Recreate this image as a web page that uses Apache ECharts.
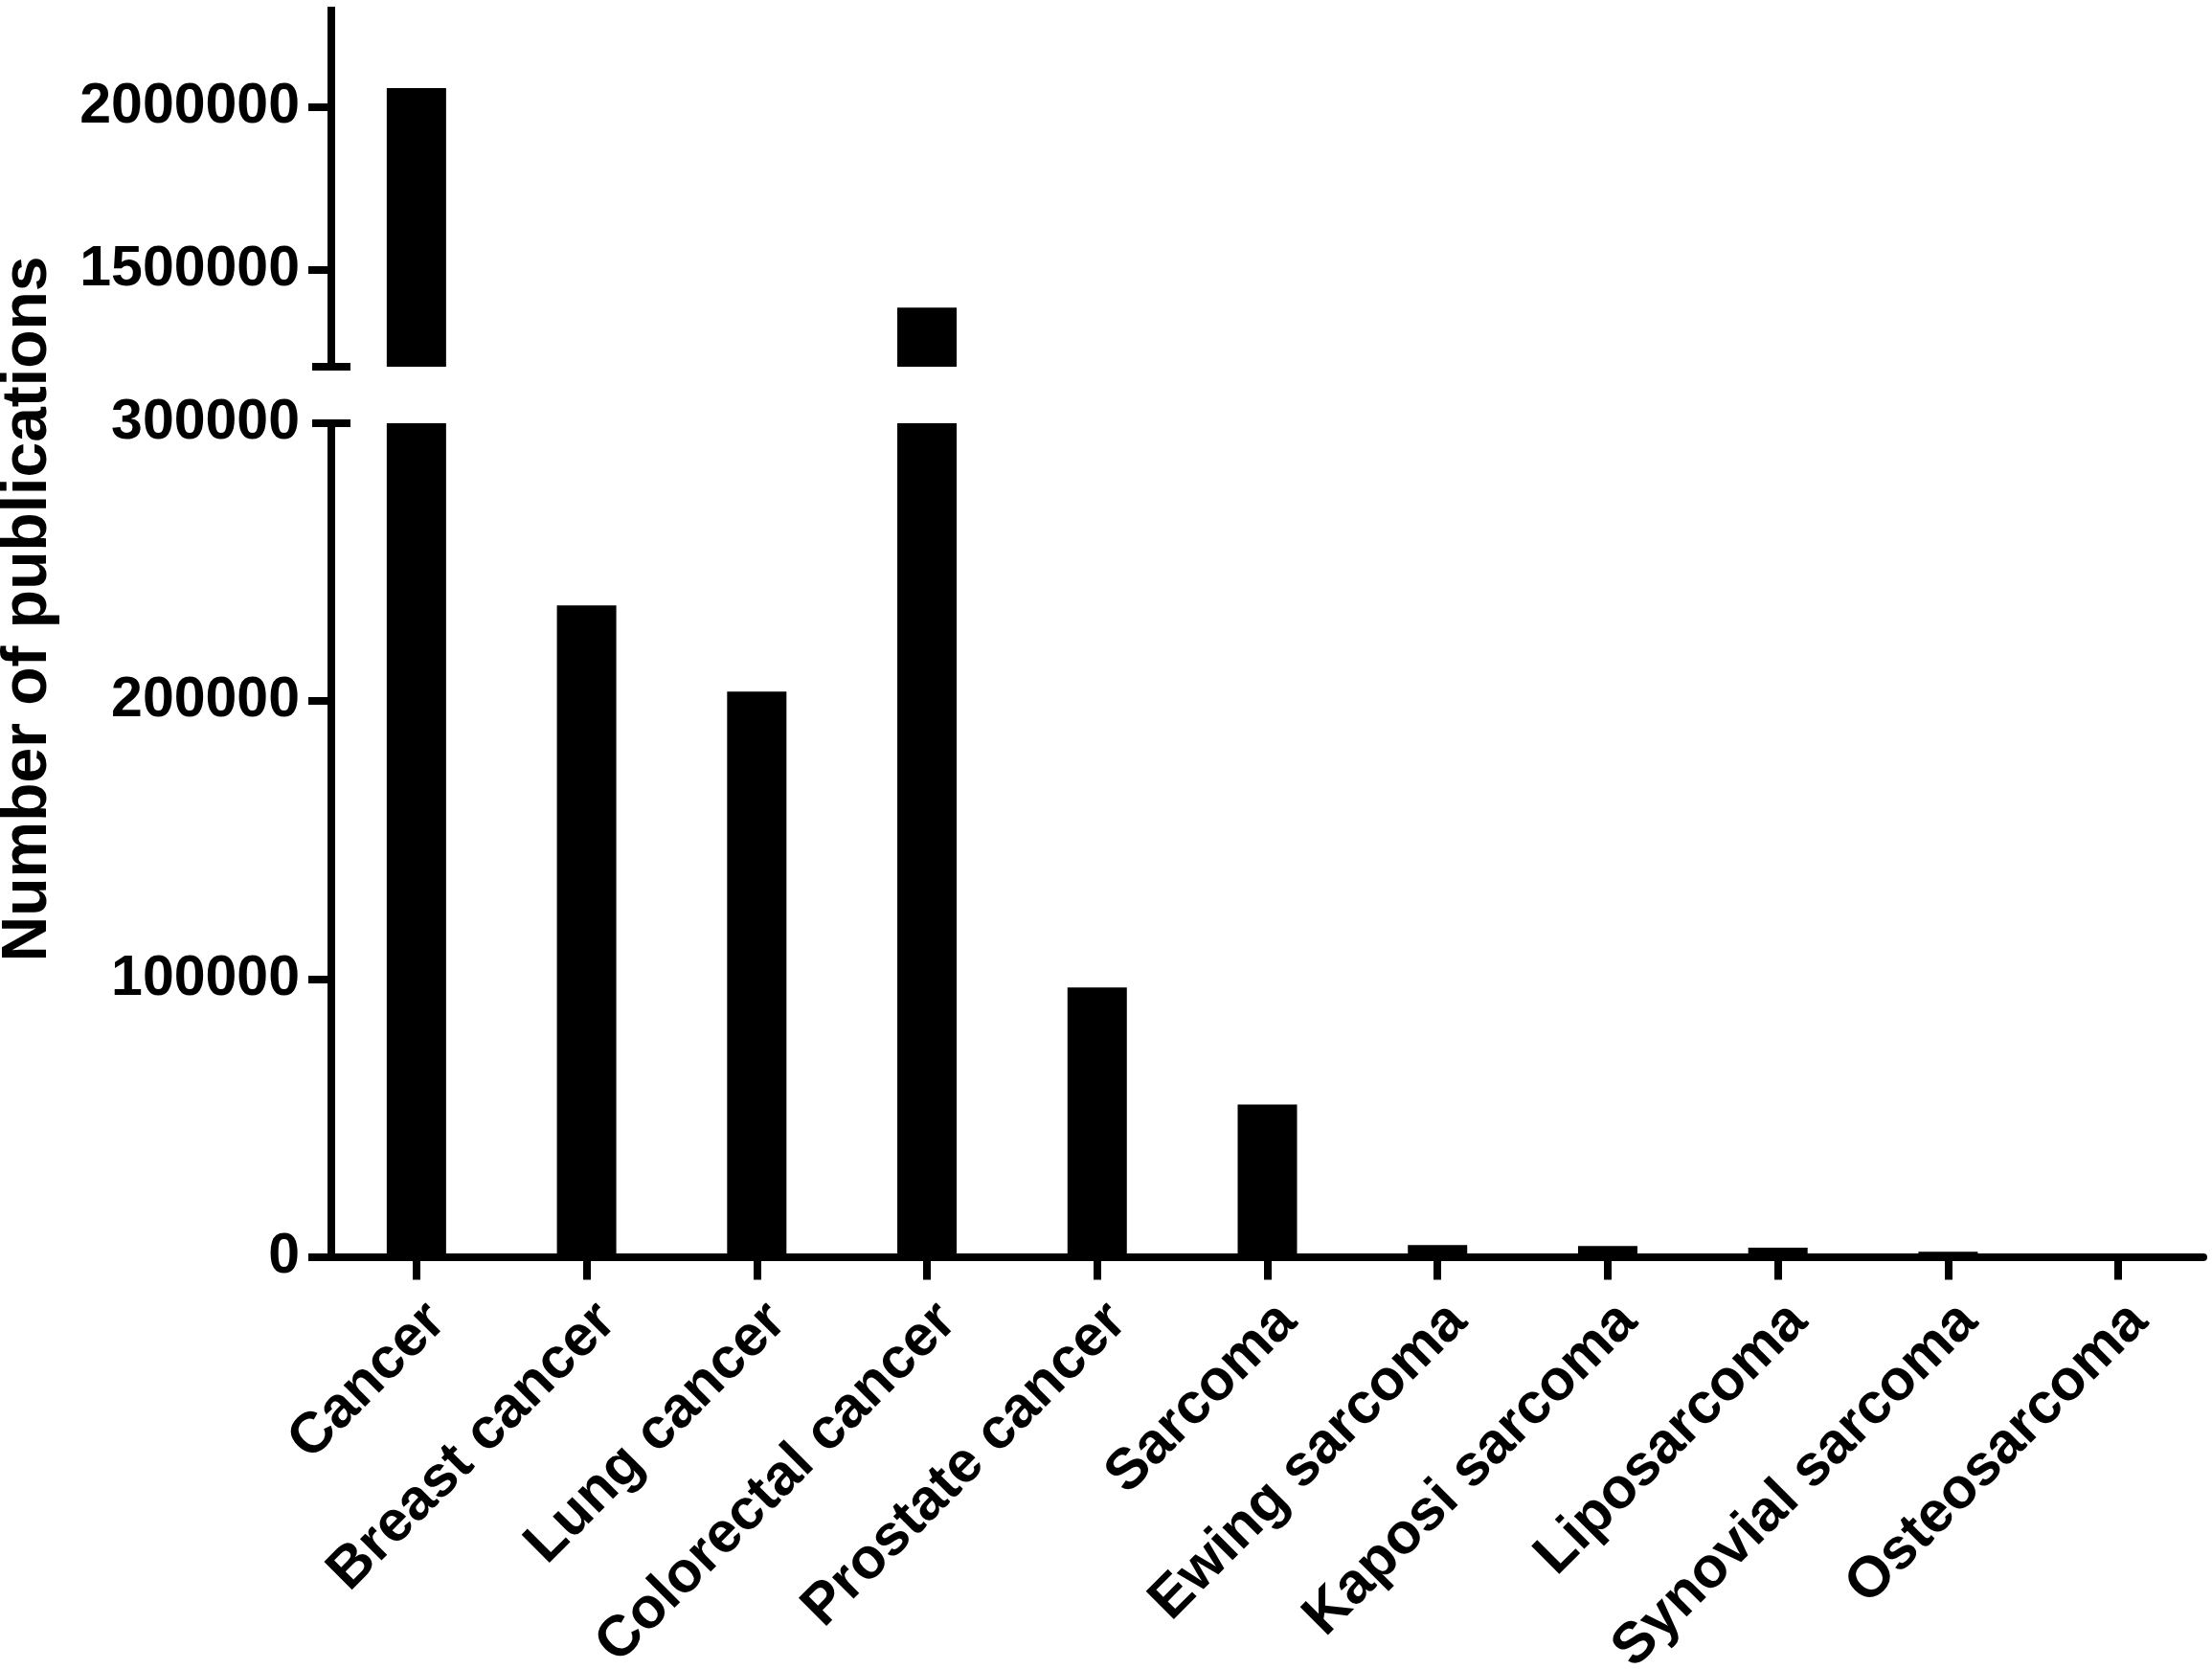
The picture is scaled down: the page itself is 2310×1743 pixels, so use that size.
<!DOCTYPE html>
<html>
<head>
<meta charset="utf-8">
<script src="https://cdn.jsdelivr.net/npm/echarts@6/dist/echarts.min.js"></script>
<style>
html,body{margin:0;padding:0;background:#fff;}
#chart{width:2310px;height:1743px;}
</style>
</head>
<body>
<div id="chart"></div>
<script>
const categories = ['Cancer','Breast cancer','Lung cancer','Colorectal cancer','Prostate cancer','Sarcoma','Ewing sarcoma','Kaposi sarcoma','Liposarcoma','Synovial sarcoma','Osteosarcoma'];
const publications = [2059000, 234400, 203400, 1382000, 96900, 54800, 4200, 3850, 3250, 1800, 600];
const topTicks = [1500000, 2000000];
const bottomTicks = [0, 100000, 200000, 300000];
const topRange = [1200000, 2310000];
const bottomRange = [0, 300000];
const yTitle = 'Number of publications';

const FONT = 'Liberation Sans, Arial, Helvetica, sans-serif';
const BLACK = '#000';
const LW = 8;

const chart = echarts.init(document.getElementById('chart'), null, {renderer: 'canvas'});

function mainY(gridIndex, range, ticks, labelTicks) {
  return {
    type: 'value', gridIndex: gridIndex, position: 'left',
    min: range[0], max: range[1],
    splitLine: {show: false},
    axisLine: {show: true, lineStyle: {color: BLACK, width: LW, cap: 'butt'}},
    axisTick: {show: true, inside: false, length: 24, customValues: ticks,
               lineStyle: {color: BLACK, width: LW}},
    axisLabel: {show: true, customValues: labelTicks, margin: 33, color: BLACK,
                fontSize: 59, fontWeight: 'bold', fontFamily: FONT,
                formatter: function (v) { return String(v); }}
  };
}
function capY(gridIndex, range, value, inside) {
  return {
    type: 'value', gridIndex: gridIndex, position: 'left', offset: 0,
    min: range[0], max: range[1],
    splitLine: {show: false},
    axisLine: {show: false},
    axisLabel: {show: false},
    axisTick: {show: true, inside: inside, length: 20, customValues: [value],
               lineStyle: {color: BLACK, width: LW}}
  };
}

const option = {
  animation: false,
  backgroundColor: '#fff',
  grid: [
    {left: 346, width: 1955, top: 7, height: 376, containLabel: false, outerBoundsMode: 'none'},
    {left: 346, width: 1955, top: 442, height: 870.5, containLabel: false, outerBoundsMode: 'none'}
  ],
  xAxis: [
    {type: 'category', gridIndex: 0, data: categories, show: false},
    {type: 'category', gridIndex: 1, data: categories,
     axisLine: {show: true, lineStyle: {color: BLACK, width: LW}},
     axisTick: {show: true, alignWithLabel: true, length: 24, lineStyle: {color: BLACK, width: LW}},
     axisLabel: {interval: 0, rotate: 45, verticalAlign: 'top', margin: 37, color: BLACK,
                 fontSize: 60, fontWeight: 'bold', fontFamily: FONT},
     splitLine: {show: false}}
  ],
  yAxis: [
    mainY(0, topRange, topTicks, topTicks),
    capY(0, topRange, topRange[0], false),
    capY(0, topRange, topRange[0], true),
    mainY(1, bottomRange, bottomTicks.slice(0, 3), bottomTicks),
    capY(1, bottomRange, bottomRange[1], false),
    capY(1, bottomRange, bottomRange[1], true)
  ],
  series: [
    {type: 'bar', xAxisIndex: 0, yAxisIndex: 0, data: publications, barWidth: 62,
     clip: true, itemStyle: {color: BLACK}},
    {type: 'bar', xAxisIndex: 1, yAxisIndex: 3, data: publications, barWidth: 62,
     clip: true, itemStyle: {color: BLACK}}
  ],
  graphic: [
    {type: 'text', x: 30, y: 636, rotation: Math.PI / 2,
     style: {text: yTitle, fill: BLACK, font: 'bold 66px ' + FONT,
             align: 'center', verticalAlign: 'middle',
             textAlign: 'center', textVerticalAlign: 'middle'}}
  ]
};
chart.setOption(option);
</script>
</body>
</html>
